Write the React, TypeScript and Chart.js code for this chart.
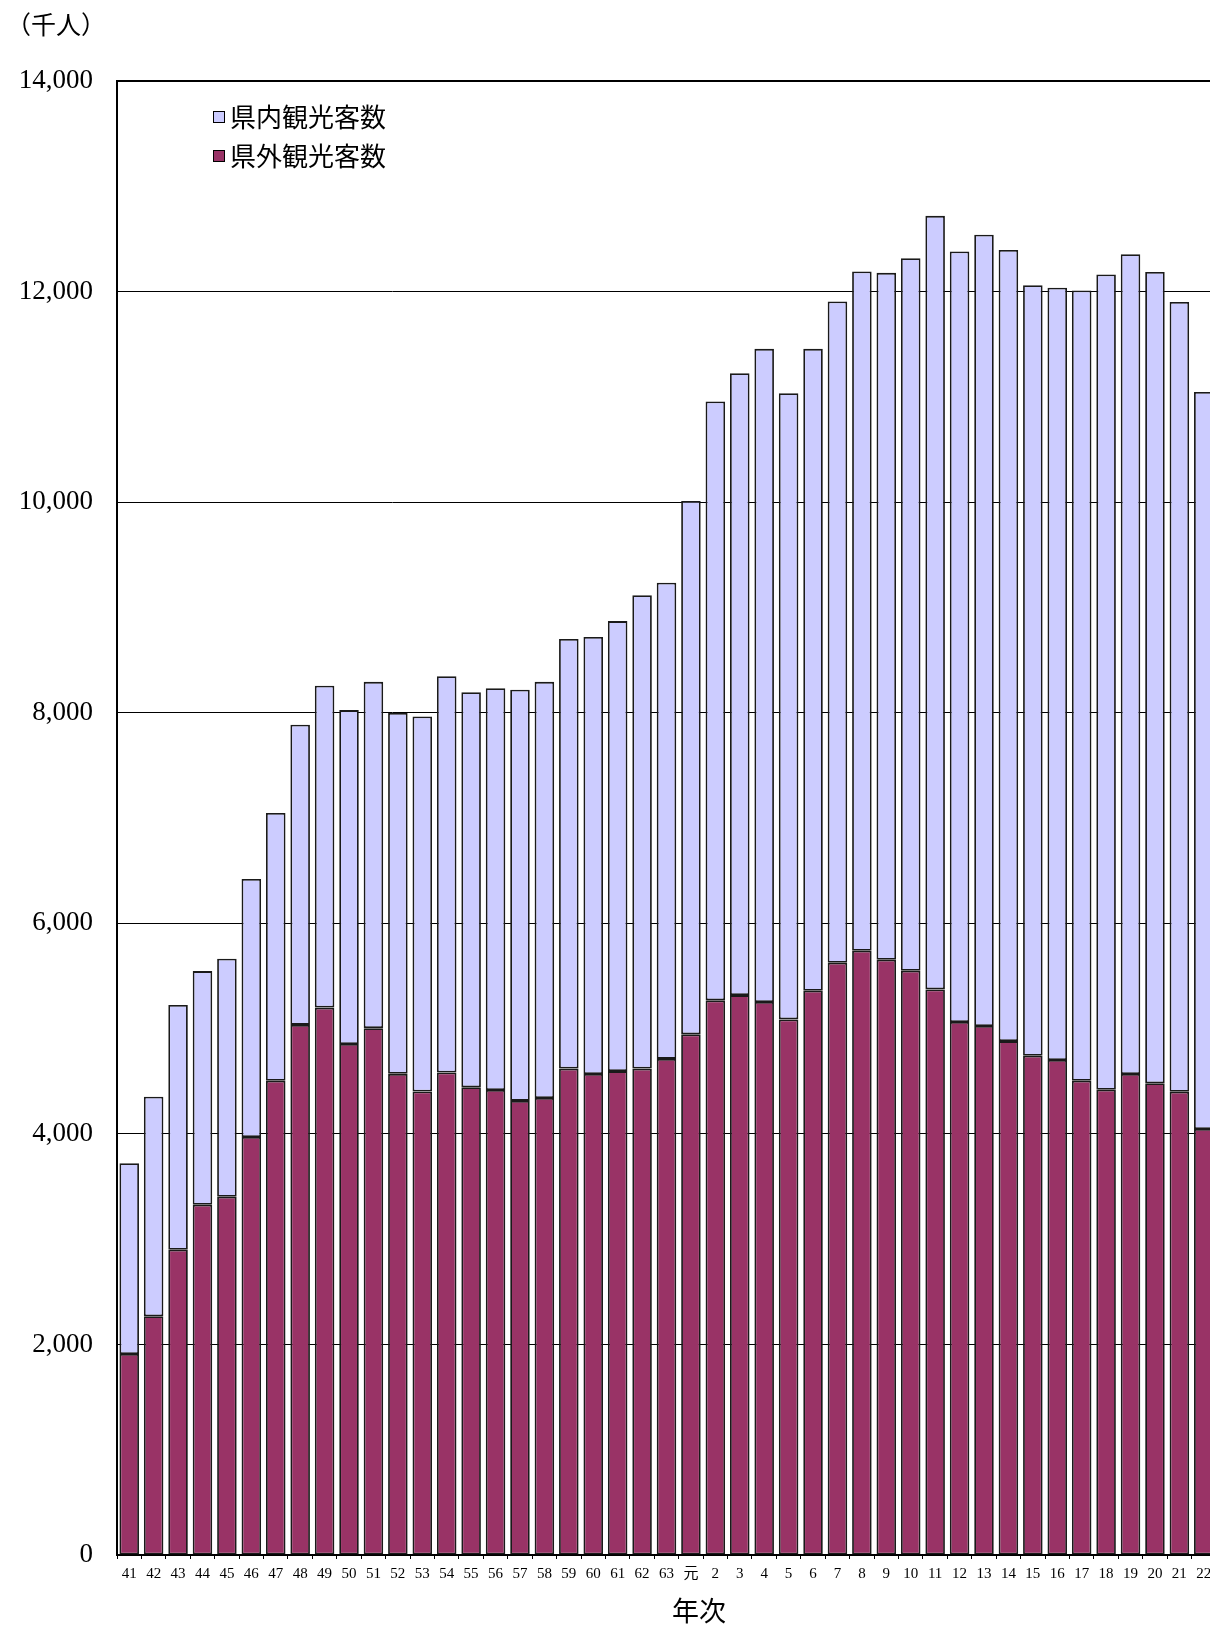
import React, { useEffect, useRef } from "react";
import { Chart, registerables } from "chart.js";

Chart.register(...registerables);

const years: string[] = [
  "41", "42", "43", "44", "45", "46", "47", "48", "49", "50", "51", "52", "53", "54", "55", "56", "57", "58", "59", "60", "61", "62", "63",
  "元", "2", "3", "4", "5", "6", "7", "8", "9", "10", "11", "12", "13", "14", "15", "16", "17", "18", "19", "20", "21", "22",
];

// 県外観光客数 (千人)
const outsideVisitors: number[] = [
  1909, 2268, 2899, 3326, 3402, 3970, 4504, 5035, 5199, 4854, 5004, 4570, 4403, 4583, 4442, 4416, 4313, 4341, 4620, 4569, 4596, 4620, 4712,
  4945, 5268, 5318, 5252, 5087, 5359, 5625, 5739, 5653, 5549, 5372, 5062, 5024, 4881, 4742, 4701, 4504, 4419, 4568, 4480, 4400, 4046,
];

// 県内観光客数 (千人)
const insideVisitors: number[] = [
  1812, 2084, 2326, 2220, 2262, 2451, 2543, 2851, 3057, 3171, 3289, 3427, 3561, 3764, 3753, 3816, 3905, 3952, 4080, 4151, 4274, 4495, 4523,
  5067, 5688, 5907, 6204, 5948, 6097, 6281, 6452, 6525, 6768, 7347, 7319, 7515, 7515, 7319, 7336, 7506, 7743, 7787, 7707, 7502, 7001,
];

const yTicks: number[] = [0, 2000, 4000, 6000, 8000, 10000, 12000, 14000];

const legendLabels: string[] = ["県内観光客数", "県外観光客数"];
const unitLabel = "（千人）";
const xAxisTitle = "年次";

const INSIDE_COLOR = "#CCCCFF";
const OUTSIDE_COLOR = "#993366";
const CJK = "'Noto Sans CJK JP', sans-serif";

const W = 1230;
const H = 1625;

export default function App() {
  const ref = useRef<HTMLCanvasElement | null>(null);

  useEffect(() => {
    if (!ref.current) return;

    const extras = {
      id: "extras",
      afterDraw(chart: any) {
        const ctx = chart.ctx as CanvasRenderingContext2D;
        ctx.save();
        ctx.fillStyle = "#000";
        ctx.textBaseline = "middle";
        ctx.textAlign = "left";
        ctx.font = `25px ${CJK}`;
        ctx.fillText(unitLabel, 6, 24);

        // legend
        const colors = [INSIDE_COLOR, OUTSIDE_COLOR];
        const rowsY = [117, 156];
        legendLabels.forEach((lab, i) => {
          const y = rowsY[i];
          ctx.fillStyle = colors[i];
          ctx.fillRect(213, y - 6, 12, 12);
          ctx.strokeStyle = "#000";
          ctx.lineWidth = 1;
          ctx.strokeRect(213.5, y - 5.5, 11, 11);
          ctx.fillStyle = "#000";
          ctx.font = `26px ${CJK}`;
          ctx.fillText(lab, 230, y);
        });

        ctx.textAlign = "center";
        ctx.font = `27px ${CJK}`;
        ctx.fillText(xAxisTitle, 699, 1611);
        ctx.restore();
      },
    };

    const chart = new Chart(ref.current, {
      type: "bar",
      data: {
        labels: years,
        datasets: [
          {
            label: legendLabels[1],
            data: outsideVisitors,
            backgroundColor: OUTSIDE_COLOR,
            borderColor: "#1a1a1a",
            borderWidth: 1.8,
            borderSkipped: false,
            categoryPercentage: 1,
            barPercentage: 0.8,
          },
          {
            label: legendLabels[0],
            data: insideVisitors,
            backgroundColor: INSIDE_COLOR,
            borderColor: "#1a1a1a",
            borderWidth: 1.8,
            borderSkipped: false,
            categoryPercentage: 1,
            barPercentage: 0.8,
          },
        ],
      },
      options: {
        responsive: false,
        animation: false,
        devicePixelRatio: 1,
        layout: { padding: { top: 81, left: 0, right: 14, bottom: 0 } },
        plugins: {
          legend: { display: false },
          tooltip: { enabled: false },
          title: { display: false },
        },
        scales: {
          x: {
            stacked: true,
            grid: {
              offset: true,
              drawOnChartArea: false,
              drawTicks: true,
              tickLength: 4,
              color: "#000",
            },
            border: { display: true, color: "#000", width: 2 },
            ticks: {
              autoSkip: false,
              maxRotation: 0,
              minRotation: 0,
              padding: 6,
              color: "#000",
              font: { family: "'Liberation Serif', 'Noto Sans CJK JP', serif", size: 15 },
            },
            afterFit: (s: any) => {
              s.height = H - 1555;
            },
          },
          y: {
            stacked: true,
            min: 0,
            max: 14000,
            afterBuildTicks: (s: any) => {
              s.ticks = yTicks.map((v) => ({ value: v }));
            },
            grid: {
              drawTicks: false,
              color: "#000",
              lineWidth: (c: any) => (c.tick && c.tick.value === 14000 ? 2 : 1),
            },
            border: { display: true, color: "#000", width: 2 },
            ticks: {
              padding: 24,
              color: "#000",
              font: { family: "'Liberation Serif', serif", size: 27 },
              callback: (v: any) => Number(v).toLocaleString("en-US"),
            },
            afterFit: (s: any) => {
              s.width = 117;
            },
          },
        },
      },
      plugins: [extras],
    });

    return () => chart.destroy();
  }, []);

  return (
    <div style={{ position: "absolute", left: 0, top: 0, width: 1210, height: H, overflow: "hidden", background: "#fff" }}>
      <canvas ref={ref} width={W} height={H} style={{ width: W, height: H, display: "block" }} />
    </div>
  );
}
